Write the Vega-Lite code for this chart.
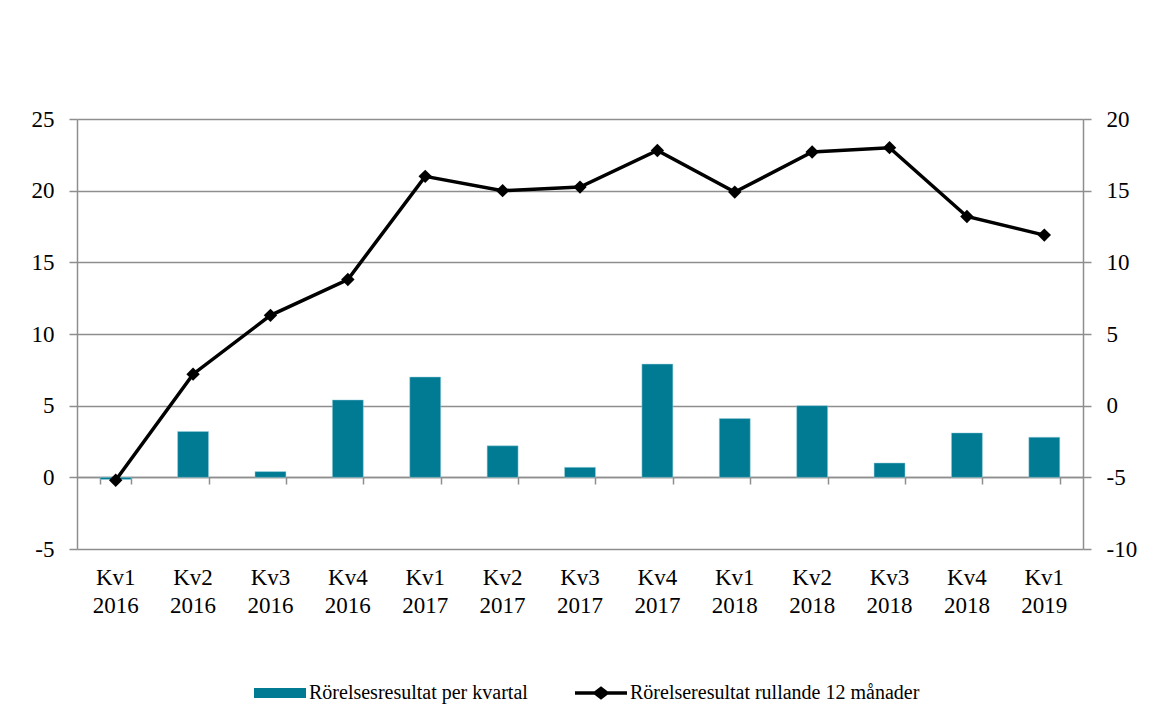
{
  "$schema": "https://vega.github.io/schema/vega-lite/v6.json",
  "width": 1006,
  "height": 430,
  "autosize": {"type": "none"},
  "padding": {"left": 77, "top": 119, "right": 67, "bottom": 173},
  "background": "white",
  "config": {
    "view": {"stroke": null},
    "font": "Liberation Serif",
    "axis": {"labelFont": "Liberation Serif", "labelColor": "#000", "title": null, "domainColor": "#8e8e8e", "tickColor": "#8e8e8e", "gridColor": "#8e8e8e", "domainWidth": 1.5, "tickWidth": 1.5, "gridWidth": 1.5},
    "legend": {"labelFont": "Liberation Serif"}
  },
  "data": {
    "values": [
      {"q": "Kv1 2016", "bar": -0.15, "line": -5.2},
      {"q": "Kv2 2016", "bar": 3.2, "line": 2.2},
      {"q": "Kv3 2016", "bar": 0.4, "line": 6.3},
      {"q": "Kv4 2016", "bar": 5.4, "line": 8.8},
      {"q": "Kv1 2017", "bar": 7.0, "line": 16.0},
      {"q": "Kv2 2017", "bar": 2.2, "line": 15.0},
      {"q": "Kv3 2017", "bar": 0.7, "line": 15.25},
      {"q": "Kv4 2017", "bar": 7.9, "line": 17.8},
      {"q": "Kv1 2018", "bar": 4.1, "line": 14.9},
      {"q": "Kv2 2018", "bar": 5.0, "line": 17.7},
      {"q": "Kv3 2018", "bar": 1.0, "line": 18.0},
      {"q": "Kv4 2018", "bar": 3.1, "line": 13.2},
      {"q": "Kv1 2019", "bar": 2.8, "line": 11.9}
    ]
  },
  "layer": [
    {
      "mark": {"type": "bar", "stroke": "#9fd3de", "strokeWidth": 0.5},
      "encoding": {
        "x": {
          "field": "q", "type": "nominal", "sort": null,
          "scale": {"paddingInner": 0.6, "paddingOuter": 0.3},
          "axis": {"orient": "bottom", "labels": false, "domain": true, "ticks": true, "tickBand": "extent", "tickSize": 7, "offset": -72, "grid": false}
        },
        "y": {
          "field": "bar", "type": "quantitative",
          "scale": {"domain": [-5, 25], "nice": false, "zero": false},
          "axis": {"orient": "left", "values": [-5, 0, 5, 10, 15, 20, 25], "labelExpr": "datum.value < 0 ? '-' + abs(datum.value) : '' + datum.value", "grid": true, "tickSize": 8, "labelFontSize": 23, "labelPadding": 15}
        },
        "color": {
          "datum": "Rörelsesresultat per kvartal",
          "scale": {"domain": ["Rörelsesresultat per kvartal", "Rörelseresultat rullande 12 månader"], "range": ["#017a94", "#000000"]},
          "legend": {
            "title": null,
            "orient": "none",
            "legendX": 177,
            "legendY": 548,
            "direction": "horizontal",
            "symbolSize": 2704,
            "symbolType": {"expr": "datum.value === 'Rörelsesresultat per kvartal' ? 'M-1,-0.19H1V0.19H-1Z' : 'M-1,-0.07H-0.25L0,-0.26L0.25,-0.07H1V0.07H0.25L0,0.26L-0.25,0.07H-1Z'"},
            "symbolFillColor": {"expr": "datum.value === 'Rörelsesresultat per kvartal' ? '#017a94' : '#000000'"},
            "symbolStrokeWidth": 0,
            "symbolOpacity": 1,
            "labelFontSize": 20,
            "labelColor": "#000",
            "labelOffset": 3,
            "labelLimit": 500,
            "columnPadding": 47
          }
        }
      }
    },
    {
      "mark": {"type": "line", "strokeWidth": 3.5, "point": {"shape": "diamond", "size": 180, "filled": true, "opacity": 1}},
      "encoding": {
        "x": {
          "field": "q", "type": "nominal", "sort": null,
          "axis": {"orient": "bottom", "labelExpr": "split(datum.value, ' ')", "labelFontSize": 23, "labelLineHeight": 28, "labelBaseline": "top", "labelAngle": 0, "labelPadding": 17, "domain": false, "ticks": false, "grid": false}
        },
        "y": {
          "field": "line", "type": "quantitative",
          "scale": {"domain": [-10, 20], "nice": false, "zero": false},
          "axis": {"orient": "right", "values": [-10, -5, 0, 5, 10, 15, 20], "labelExpr": "datum.value < 0 ? '-' + abs(datum.value) : '' + datum.value", "grid": false, "tickSize": 8, "labelFontSize": 23, "labelPadding": 15}
        },
        "color": {"datum": "Rörelseresultat rullande 12 månader"}
      }
    }
  ],
  "resolve": {"scale": {"y": "independent"}, "axis": {"x": "independent", "y": "independent"}}
}
